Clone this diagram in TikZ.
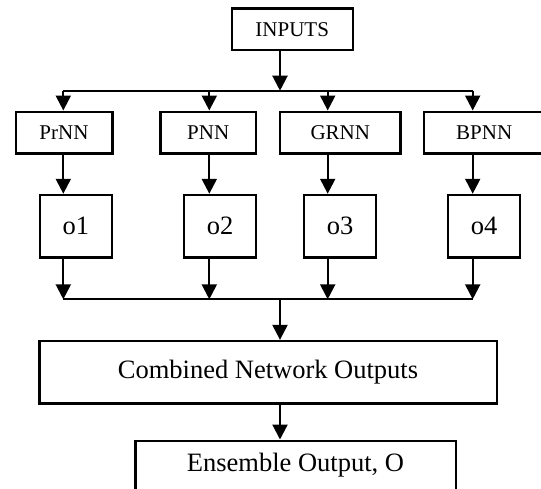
\documentclass[tikz,border=0pt]{standalone}
\usepackage{fontspec}
\setmainfont{Liberation Serif}
\usetikzlibrary{arrows.meta}

\begin{document}
\begin{tikzpicture}[x=1pt,y=-1pt]
\tikzstyle{net}=[draw, line width=2.4pt, inner sep=0pt, minimum height=41.6pt, font=\fontsize{21}{24}\selectfont]
\tikzstyle{outbox}=[draw, line width=2.4pt, inner sep=0pt, minimum width=72pt, minimum height=62.7pt, font=\fontsize{26.5}{30}\selectfont]
\tikzstyle{bigbox}=[draw, line width=2.4pt, inner sep=0pt, font=\fontsize{26.5}{30}\selectfont]
\tikzstyle{arr}=[line width=2.2pt, -{Triangle[width=15pt,length=15pt]}]
\tikzstyle{bus}=[line width=2.2pt]

\path[use as bounding box, clip] (0,0) rectangle (541,488);

\node[net, minimum width=121pt] (in) at (292.2,29.2) {INPUTS};

\node[net, minimum width=96.6pt] (prnn) at (64,132.5) {PrNN};
\node[net, minimum width=95.7pt] (pnn) at (208.2,132.5) {PNN};
\node[net, minimum width=120.7pt] (grnn) at (340.3,132.5) {GRNN};
\node[net, minimum width=121pt] (bpnn) at (484.2,132.5) {BPNN};

\node[outbox] (o1) at (75.8,226.3) {o1};
\node[outbox] (o2) at (220,226.3) {o2};
\node[outbox] (o3) at (340.2,226.3) {o3};
\node[outbox] (o4) at (484,226.3) {o4};

\node[bigbox, minimum width=457.4pt, minimum height=62.3pt] (comb) at (268,372.2) {Combined Network Outputs};
\node[bigbox, minimum width=320.4pt, minimum height=49pt] (ens) at (295.5,465.2) {Ensemble Output, O};

% top bus
\coordinate (t0) at (280,90.7);
\coordinate (t1) at (63.3,90.7);
\coordinate (t2) at (209.3,90.7);
\coordinate (t3) at (327.7,90.7);
\coordinate (t4) at (472.7,90.7);
% bottom bus
\coordinate (b0) at (280,299.3);
\coordinate (b1) at (63.3,299.3);
\coordinate (b4) at (472.7,299.3);

\draw[bus] (t1) -- (t4);
\draw[bus] (b1) -- (b4);

\path[arr]
(in.south -| t0) edge (t0)
(t1) edge (prnn.north -| t1)
(t2) edge (pnn.north -| t2)
(t3) edge (grnn.north -| t3)
(t4) edge (bpnn.north -| t4)
(prnn.south -| t1) edge (o1.north -| t1)
(pnn.south -| t2) edge (o2.north -| t2)
(grnn.south -| t3) edge (o3.north -| t3)
(bpnn.south -| t4) edge (o4.north -| t4)
(o1.south -| t1) edge (b1)
(o2.south -| t2) edge (b1 -| t2)
(o3.south -| t3) edge (b1 -| t3)
(o4.south -| t4) edge (b4)
(b0) edge (comb.north -| b0)
(comb.south -| b0) edge (ens.north -| b0);

\end{tikzpicture}
\end{document}
